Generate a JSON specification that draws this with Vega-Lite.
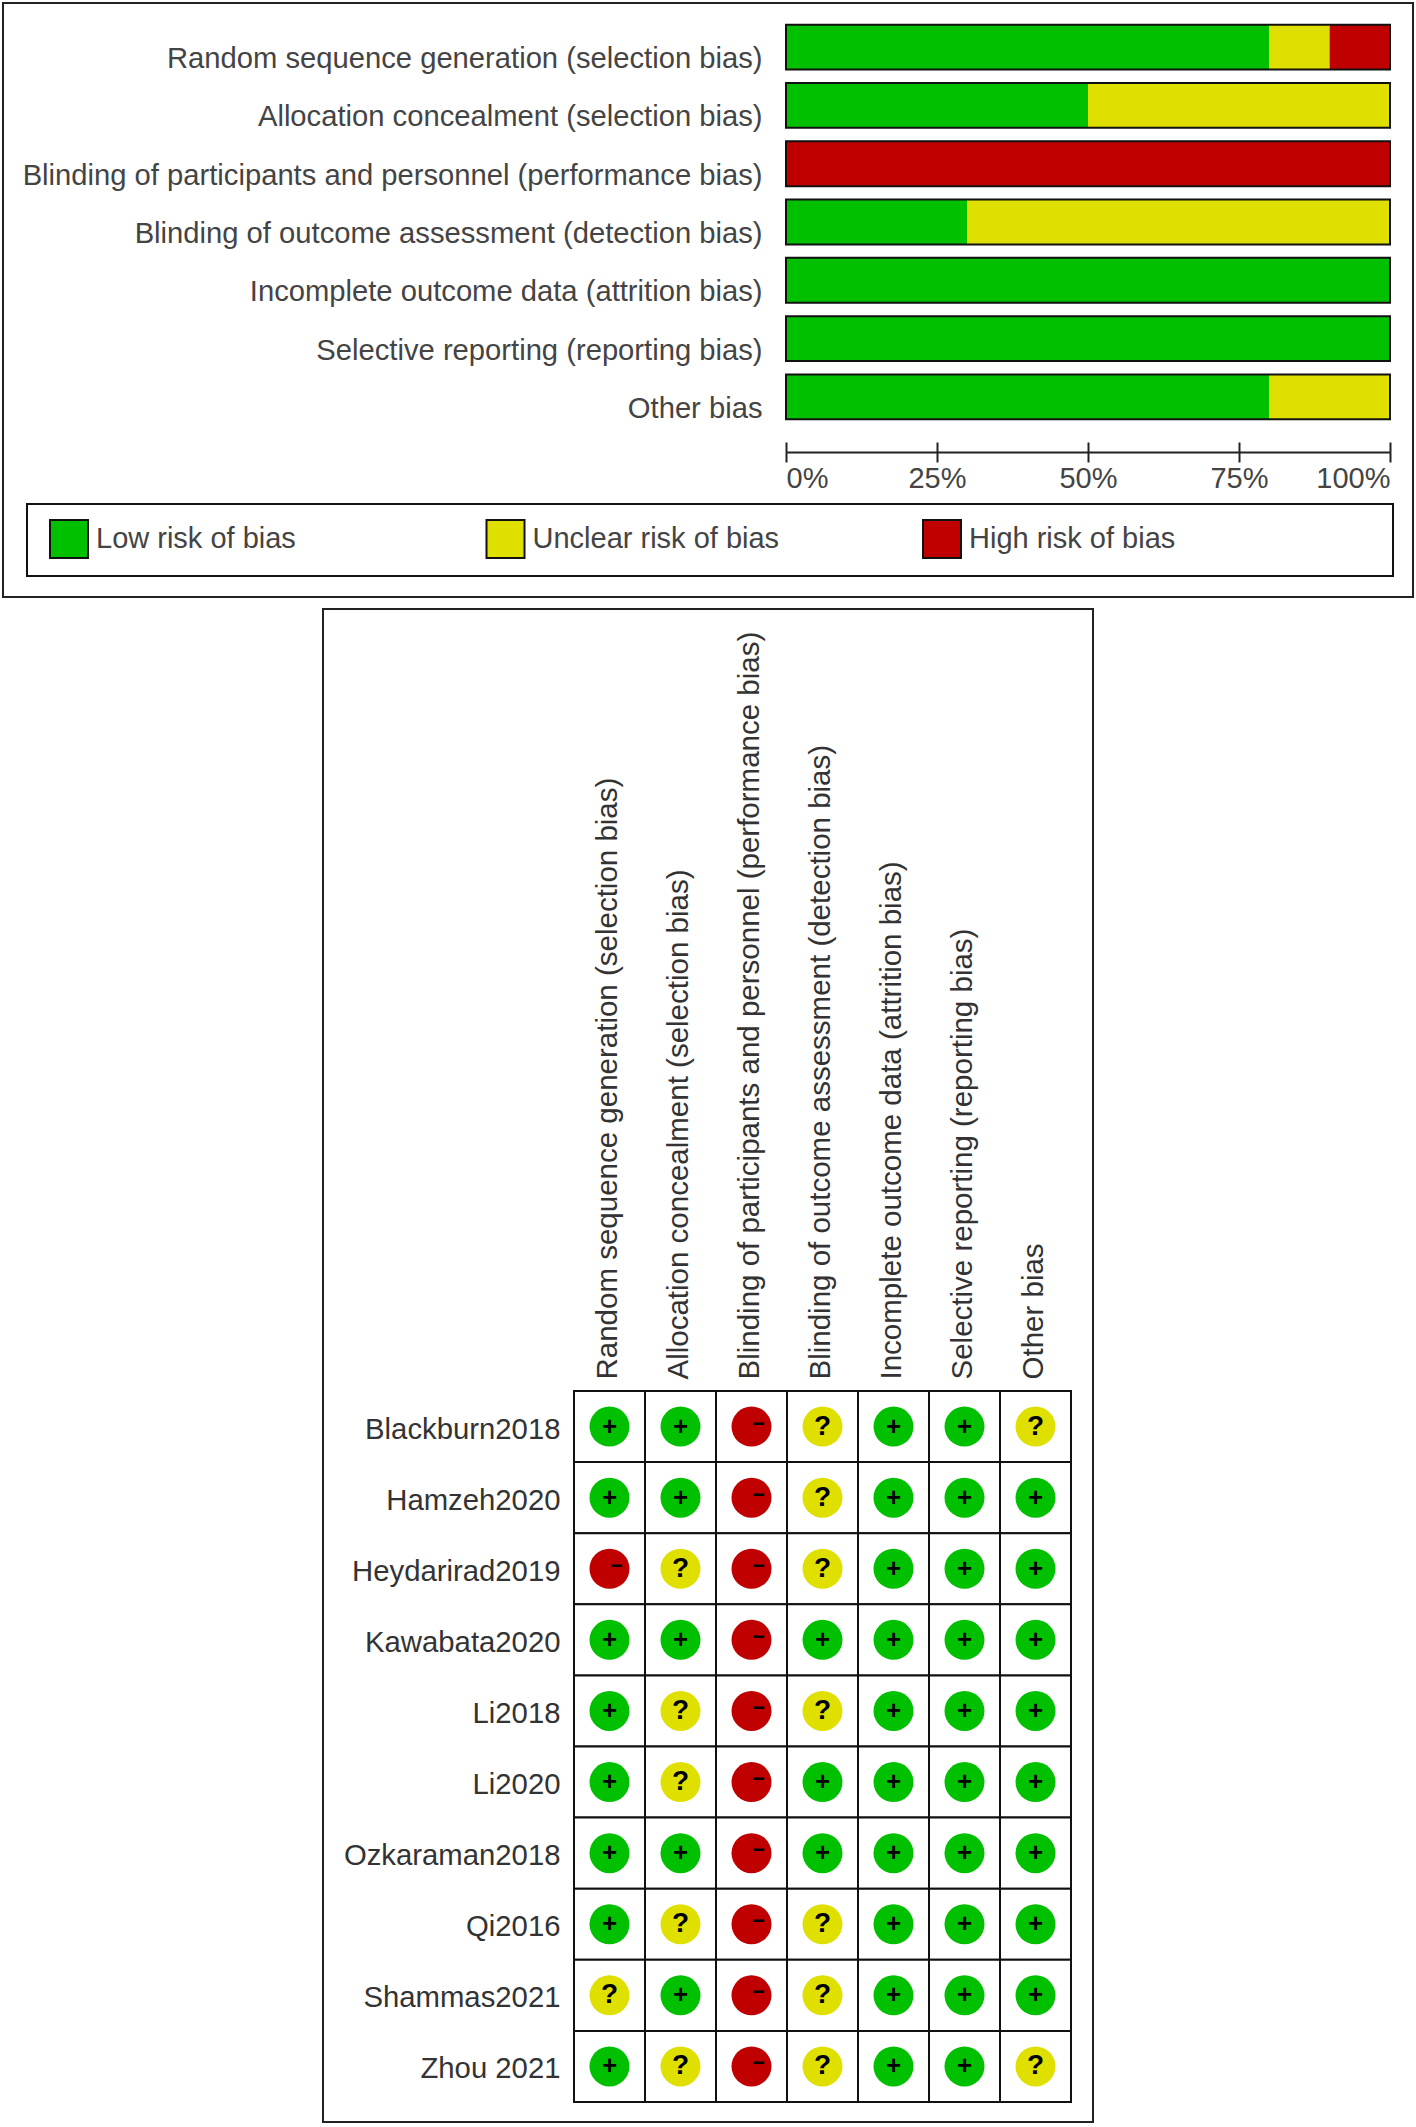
{"$schema":"https://vega.github.io/schema/vega-lite/v6.json","background":"white","padding":{"left":2,"top":2,"right":0,"bottom":0},"config":{"view":{"stroke":"#222","strokeWidth":2,"fill":"white"},"font":"Liberation Sans"},"datasets":{"summary":[{"item":"Random sequence generation (selection bias)","risk":"Low risk of bias","rank":1,"pct":80},{"item":"Random sequence generation (selection bias)","risk":"Unclear risk of bias","rank":2,"pct":10},{"item":"Random sequence generation (selection bias)","risk":"High risk of bias","rank":3,"pct":10},{"item":"Allocation concealment (selection bias)","risk":"Low risk of bias","rank":1,"pct":50},{"item":"Allocation concealment (selection bias)","risk":"Unclear risk of bias","rank":2,"pct":50},{"item":"Blinding of participants and personnel (performance bias)","risk":"High risk of bias","rank":3,"pct":100},{"item":"Blinding of outcome assessment (detection bias)","risk":"Low risk of bias","rank":1,"pct":30},{"item":"Blinding of outcome assessment (detection bias)","risk":"Unclear risk of bias","rank":2,"pct":70},{"item":"Incomplete outcome data (attrition bias)","risk":"Low risk of bias","rank":1,"pct":100},{"item":"Selective reporting (reporting bias)","risk":"Low risk of bias","rank":1,"pct":100},{"item":"Other bias","risk":"Low risk of bias","rank":1,"pct":80},{"item":"Other bias","risk":"Unclear risk of bias","rank":2,"pct":20}],"matrix":[{"s":"Blackburn2018","r":["L","L","H","U","L","L","U"]},{"s":"Hamzeh2020","r":["L","L","H","U","L","L","L"]},{"s":"Heydarirad2019","r":["H","U","H","U","L","L","L"]},{"s":"Kawabata2020","r":["L","L","H","L","L","L","L"]},{"s":"Li2018","r":["L","U","H","U","L","L","L"]},{"s":"Li2020","r":["L","U","H","L","L","L","L"]},{"s":"Ozkaraman2018","r":["L","L","H","L","L","L","L"]},{"s":"Qi2016","r":["L","U","H","U","L","L","L"]},{"s":"Shammas2021","r":["U","L","H","U","L","L","L"]},{"s":"Zhou 2021","r":["L","U","H","U","L","L","U"]}]},"spacing":10,"center":true,"vconcat":[{"width":1410,"height":594,"resolve":{"axis":{"x":"independent"}},"layer":[{"data":{"name":"summary"},"mark":{"type":"bar"},"encoding":{"y":{"field":"item","type":"nominal","sort":null,"scale":{"domain":["Random sequence generation (selection bias)","Allocation concealment (selection bias)","Blinding of participants and personnel (performance bias)","Blinding of outcome assessment (detection bias)","Incomplete outcome data (attrition bias)","Selective reporting (reporting bias)","Other bias"],"range":[15,423],"paddingInner":0.23,"paddingOuter":0.115},"axis":{"title":null,"orient":"left","offset":-759,"domain":false,"ticks":false,"tickSize":0,"labelPadding":0,"labelOffset":12,"labelFontSize":29.2,"labelColor":"#444","labelLimit":800}},"x":{"field":"pct","type":"quantitative","stack":"zero","scale":{"domain":[0,100],"range":[783,1387]},"axis":{"title":null,"orient":"bottom","offset":-145,"values":[0,25,50,75,100],"format":".0f","labelExpr":"datum.label + '%'","labelFlush":true,"grid":false,"tickSize":10,"tickWidth":2,"tickColor":"#222","domainColor":"#222","domainWidth":2,"labelFontSize":29,"labelColor":"#444","labelPadding":2}},"fill":{"field":"risk","type":"nominal","scale":{"domain":["Low risk of bias","Unclear risk of bias","High risk of bias"],"range":["#00C000","#E0E000","#C00000"]},"legend":{"title":null,"orient":"none","legendX":46,"legendY":516,"columns":3,"direction":"horizontal","symbolType":"square","symbolSize":1444,"symbolStrokeColor":"#111","symbolStrokeWidth":2,"labelFontSize":29,"labelColor":"#444","labelLimit":400,"columnPadding":139.5,"labelOffset":7,"gridAlign":"all","padding":0}},"order":{"field":"rank","type":"quantitative"}}},{"data":{"name":"summary"},"transform":[{"aggregate":[{"op":"sum","field":"pct","as":"total"}],"groupby":["item"]}],"mark":{"type":"bar","fill":null,"stroke":"#111","strokeWidth":2},"encoding":{"y":{"field":"item","type":"nominal"},"x":{"field":"total","type":"quantitative","axis":{"title":null,"orient":"bottom","offset":-145,"values":[0,25,50,75,100],"tickSize":-10,"tickWidth":2,"tickColor":"#222","domain":false,"labels":false,"grid":false}}}},{"data":{"values":[{"f":1}]},"mark":{"type":"rect","fill":null,"stroke":"#111","strokeWidth":2},"encoding":{"x":{"value":24},"x2":{"value":1390},"y":{"value":501},"y2":{"value":573}}}]},{"width":770,"height":1513,"data":{"name":"matrix"},"transform":[{"flatten":["r"],"as":["r"]},{"window":[{"op":"row_number","as":"i"}],"groupby":["s"]},{"lookup":"i","from":{"data":{"values":[{"i":1,"d":"Random sequence generation (selection bias)"},{"i":2,"d":"Allocation concealment (selection bias)"},{"i":3,"d":"Blinding of participants and personnel (performance bias)"},{"i":4,"d":"Blinding of outcome assessment (detection bias)"},{"i":5,"d":"Incomplete outcome data (attrition bias)"},{"i":6,"d":"Selective reporting (reporting bias)"},{"i":7,"d":"Other bias"}]},"key":"i","fields":["d"]}}],"encoding":{"x":{"field":"d","type":"nominal","sort":null,"scale":{"domain":["Random sequence generation (selection bias)","Allocation concealment (selection bias)","Blinding of participants and personnel (performance bias)","Blinding of outcome assessment (detection bias)","Incomplete outcome data (attrition bias)","Selective reporting (reporting bias)","Other bias"],"range":[251,748],"paddingInner":0,"paddingOuter":0},"axis":{"title":null,"orient":"top","offset":-782,"domain":false,"ticks":false,"tickSize":0,"labelAngle":-90,"labelAlign":"left","labelBaseline":"middle","labelPadding":12,"labelOffset":-2,"labelFontSize":29.5,"labelColor":"#333","labelLimit":800}},"y":{"field":"s","type":"nominal","sort":null,"scale":{"domain":["Blackburn2018","Hamzeh2020","Heydarirad2019","Kawabata2020","Li2018","Li2020","Ozkaraman2018","Qi2016","Shammas2021","Zhou 2021"],"range":[782,1493],"paddingInner":0,"paddingOuter":0},"axis":{"title":null,"orient":"left","offset":-237,"domain":false,"ticks":false,"tickSize":0,"labelPadding":0,"labelOffset":3,"labelFontSize":29.3,"labelColor":"#333","labelLimit":400}}},"layer":[{"mark":{"type":"rect","fill":"white","stroke":"#111","strokeWidth":2}},{"mark":{"type":"point","filled":true,"size":1600,"opacity":1,"shape":"circle","strokeWidth":0},"encoding":{"color":{"field":"r","type":"nominal","legend":null,"scale":{"domain":["L","U","H"],"range":["#00C000","#E0E000","#C00000"]}}}},{"transform":[{"filter":"datum.r === 'L'"}],"mark":{"type":"text","text":"+","fontSize":26,"fontWeight":"bold","color":"#000"}},{"transform":[{"filter":"datum.r === 'U'"}],"mark":{"type":"text","text":"?","fontSize":28,"fontWeight":"bold","color":"#000"}},{"transform":[{"filter":"datum.r === 'H'"}],"mark":{"type":"text","text":"−","fontSize":22,"fontWeight":"bold","color":"#000","dx":7,"dy":-3}}]}]}
